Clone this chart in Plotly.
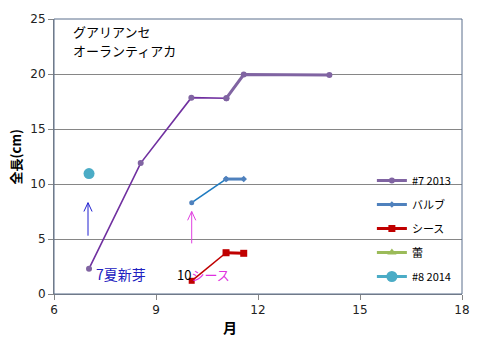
import plotly.graph_objects as go

# ---- data ----
s7_x = [7.03, 8.55, 10.04, 11.07, 11.58, 14.1]
s7_y = [2.3, 11.9, 17.85, 17.8, 19.95, 19.9]
bulb_x = [10.05, 11.06, 11.58]
bulb_y = [8.3, 10.45, 10.45]
sheath_x = [10.05, 11.06, 11.58]
sheath_y = [1.2, 3.75, 3.7]
bud_x = [None]
bud_y = [None]
s8_x = [7.03]
s8_y = [10.95]

series_names = ["#7 2013", "バルブ", "シース", "蕾", "#8 2014"]
title_lines = ["グアリアンセ", "オーランティアカ"]

# arrows: (x, y_start, y_end, color)
arrows = [(7.0, 5.3, 8.3, "#2020D0"), (10.05, 4.6, 7.5, "#E040E0")]

x_ticks = [6, 9, 12, 15, 18]
y_ticks = [0, 5, 10, 15, 20, 25]

JP = "Noto Sans CJK JP"
NUM = "DejaVu Sans"

fig = go.Figure()

# thin early parts (not in legend)
fig.add_trace(go.Scatter(x=s7_x[:4], y=s7_y[:4], mode="lines+markers",
                         line=dict(color="#7030A0", width=1.6),
                         marker=dict(color="#8064A2", size=6, symbol="circle"),
                         showlegend=False, hoverinfo="skip"))
fig.add_trace(go.Scatter(x=bulb_x[:2], y=bulb_y[:2], mode="lines+markers",
                         line=dict(color="#1F7BC0", width=1.6),
                         marker=dict(color="#4F81BD", size=5, symbol="circle"),
                         showlegend=False, hoverinfo="skip"))
fig.add_trace(go.Scatter(x=sheath_x[:2], y=sheath_y[:2], mode="lines+markers",
                         line=dict(color="#C00000", width=1.6),
                         marker=dict(color="#C00000", size=6, symbol="square"),
                         showlegend=False, hoverinfo="skip"))

# main (thick) parts, in legend
fig.add_trace(go.Scatter(x=s7_x[3:], y=s7_y[3:], mode="lines+markers", name=series_names[0],
                         legendgroup="a",
                         line=dict(color="#8064A2", width=3),
                         marker=dict(color="#8064A2", size=6, symbol="circle")))
fig.add_trace(go.Scatter(x=bulb_x[1:], y=bulb_y[1:], mode="lines+markers", name=series_names[1],
                         legendgroup="b",
                         line=dict(color="#4F81BD", width=3),
                         marker=dict(color="#4F81BD", size=5, symbol="diamond")))
fig.add_trace(go.Scatter(x=sheath_x[1:], y=sheath_y[1:], mode="lines+markers", name=series_names[2],
                         legendgroup="c",
                         line=dict(color="#C00000", width=3),
                         marker=dict(color="#C00000", size=7, symbol="square")))
fig.add_trace(go.Scatter(x=bud_x, y=bud_y, mode="lines+markers", name=series_names[3],
                         legendgroup="d",
                         line=dict(color="#9BBB59", width=3),
                         marker=dict(color="#9BBB59", size=8, symbol="triangle-up")))
fig.add_trace(go.Scatter(x=s8_x, y=s8_y, mode="lines+markers", name=series_names[4],
                         legendgroup="e",
                         line=dict(color="#4BACC6", width=3),
                         marker=dict(color="#4BACC6", size=11, symbol="circle")))

# arrows drawn as lines with open V heads
hx, hy = 0.12, 0.8
for ax_, y0, y1, col in arrows:
    fig.add_trace(go.Scatter(x=[ax_, ax_, None, ax_ - hx, ax_, ax_ + hx],
                             y=[y0, y1, None, y1 - hy, y1, y1 - hy],
                             mode="lines", line=dict(color=col, width=1),
                             showlegend=False, hoverinfo="skip"))

W, H = 482, 341
L, R, T, B = 54, 16, 19, 47
pw, ph = W - L - R, H - T - B

def px(x):
    return (x - L) / pw

def py(y):
    return 1 - (y - T) / ph

annotations = [
    dict(x=px(71), y=py(32), xref="paper", yref="paper", xanchor="left", yanchor="middle",
         text=title_lines[0], showarrow=False,
         font=dict(family=JP, size=13, color="#000")),
    dict(x=px(71), y=py(51), xref="paper", yref="paper", xanchor="left", yanchor="middle",
         text=title_lines[1], showarrow=False,
         font=dict(family=JP, size=13, color="#000")),
    dict(x=7.96, y=1.8, xref="x", yref="y", text="7夏新芽", showarrow=False,
         font=dict(family=JP, size=14, color="#2020C0")),
    dict(x=9.57, y=1.8, xref="x", yref="y", xanchor="left",
         text="10<span style='color:#E030E0'>シース</span>", showarrow=False,
         font=dict(family=JP, size=13, color="#000")),
    dict(x=px(15), y=py(157), xref="paper", yref="paper", xanchor="center", yanchor="middle",
         text="<b>全長(cm)</b>", showarrow=False,
         textangle=-90, font=dict(family=JP, size=13, color="#000")),
    dict(x=px(232), y=py(327), xref="paper", yref="paper", xanchor="center", yanchor="middle",
         text="<b>月</b>", showarrow=False, font=dict(family=JP, size=14, color="#000")),
]

fig.update_layout(
    width=W, height=H,
    margin=dict(l=L, r=R, t=T, b=B),
    paper_bgcolor="white", plot_bgcolor="white",
    showlegend=True,
    legend=dict(x=px(375), y=py(166), xanchor="left", yanchor="top", bgcolor="rgba(0,0,0,0)",
                font=dict(family=JP, size=11, color="#000"), tracegroupgap=5,
                itemwidth=30),
    annotations=annotations,
)
fig.update_xaxes(range=[6, 18], tickvals=x_ticks, showgrid=False, zeroline=False,
                 ticks="outside", ticklen=5, tickcolor="#868686",
                 showline=True, linecolor="#868686", mirror=False,
                 tickfont=dict(family=NUM, size=12, color="#222"))
fig.update_yaxes(range=[0, 25], tickvals=y_ticks, showgrid=True, gridcolor="#868686", gridwidth=1,
                 zeroline=False, ticks="outside", ticklen=5, tickcolor="#868686",
                 showline=True, linecolor="#868686",
                 tickfont=dict(family=NUM, size=12, color="#222"))
# plot area border (right/top)
fig.add_shape(type="rect", xref="paper", yref="paper", x0=0, y0=0, x1=1, y1=1,
              line=dict(color="#5A6E8C", width=1), layer="above")

fig.write_html("out.html")
